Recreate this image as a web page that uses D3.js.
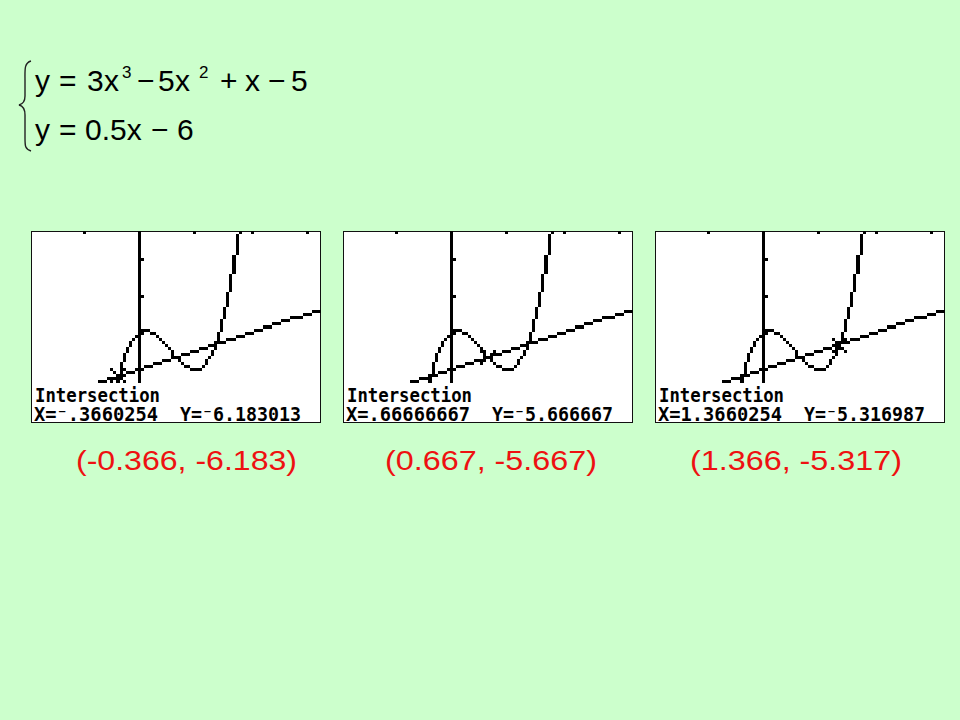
<!DOCTYPE html>
<html>
<head>
<meta charset="utf-8">
<script src="https://cdn.jsdelivr.net/npm/d3@7"></script>
<style>
  html, body { margin: 0; padding: 0; background: #CCFFCC; }
  svg { display: block; }
</style>
</head>
<body>
<div id="chart"></div>
<script>
// ---- data ----
const cubicCoeffs = [3, -5, 1, -5];      // y = 3x^3 - 5x^2 + x - 5
const lineCoeffs = [0.5, -6];            // y = 0.5x - 6
const xWindow = [-1.9, 3.2];
const yWindow = [-7.4, -2.3];
const xTicks = [-1, 1, 2, 3];
const yTicks = [-7, -6, -5, -4, -3];
const intersectX = [-0.3660254, 0.66666667, 1.3660254];
const intersectY = [-6.183013, -5.666667, -5.316987];
const readoutX = ["X=\u207B.3660254", "X=.66666667", "X=1.3660254"];
const readoutY = ["Y=\u207B6.183013", "Y=\u207B5.666667", "Y=\u207B5.316987"];
const pointLabels = ["(-0.366, -6.183)", "(0.667, -5.667)", "(1.366, -5.317)"];

// ---- layout ----
const W = 960, H = 720;
const panelLeft = [31, 343, 655];
const panelTop = 231, panelW = 290, panelH = 192;
const COLS = 95, ROWS = 63, GRAPH_ROWS = 50;

const svg = d3.select("#chart").append("svg").attr("width", W).attr("height", H);
svg.append("rect").attr("width", W).attr("height", H).attr("fill", "#CCFFCC");

// ---- equations ----
const eq = svg.append("g").attr("font-family", "'Liberation Sans', Arial, sans-serif").attr("fill", "#000");
const line1 = [
  {t: "y", x: 35}, {t: "=", x: 59}, {t: "3", x: 87}, {t: "x", x: 104},
  {t: "3", x: 122, sup: true}, {t: "\u2212", x: 137}, {t: "5", x: 158},
  {t: "x", x: 175}, {t: "2", x: 199, sup: true}, {t: "+", x: 220},
  {t: "x", x: 245}, {t: "\u2212", x: 268}, {t: "5", x: 291}
];
const line2 = [
  {t: "y", x: 35}, {t: "=", x: 59}, {t: "0.5x", x: 85},
  {t: "\u2212", x: 151}, {t: "6", x: 177}
];
function drawTokens(tokens, baseline) {
  eq.selectAll(null).data(tokens).enter().append("text")
    .attr("x", d => d.x).attr("y", d => d.sup ? baseline - 13 : baseline)
    .attr("font-size", d => d.sup ? 17 : 30).text(d => d.t);
}
drawTokens(line1, 91);
drawTokens(line2, 140);
// brace
svg.append("path")
  .attr("d", "M31,61 C24,63 25,70 25,80 L25,96 C25,101 23,104 19,105 C23,106 25,109 25,115 L25,138 C25,146 25,149 31,151")
  .attr("fill", "none").attr("stroke", "#222").attr("stroke-width", 1.4);

// ---- calculator panels ----
const poly = (c, x) => c.reduce((a, k) => a * x + k, 0);
const colS = d3.scaleLinear().domain(xWindow).range([0, COLS - 1]);
const rowS = d3.scaleLinear().domain(yWindow).range([ROWS - 1, 0]);
const px = d3.scaleLinear().domain([0, COLS]).range([0, panelW]);
const py = d3.scaleLinear().domain([0, ROWS]).range([0, panelH]);

panelLeft.forEach((left, i) => {
  const g = svg.append("g").attr("transform", `translate(${left},${panelTop})`);
  g.append("rect").attr("x", 0.5).attr("y", 0.5).attr("width", panelW - 1).attr("height", panelH - 1)
    .attr("fill", "#fff").attr("stroke", "#111").attr("stroke-width", 1);

  const cells = new Set();
  const plot = (c, r) => { if (c >= 0 && c < COLS && r >= 0 && r < GRAPH_ROWS) cells.add(c + "," + r); };
  const c0 = Math.round(colS(0));
  for (let r = 0; r < GRAPH_ROWS; r++) plot(c0, r);
  xTicks.forEach(t => plot(Math.round(colS(t)), 0));
  yTicks.forEach(t => plot(c0 + 1, Math.round(rowS(t))));

  [cubicCoeffs, lineCoeffs].forEach(coef => {
    let prev = null;
    for (let c = 0; c < COLS; c++) {
      let r = Math.round(rowS(poly(coef, colS.invert(c))));
      r = Math.max(-3, Math.min(ROWS + 3, r));
      if (prev !== null) {
        const dr = r - prev;
        if (Math.abs(dr) <= 1) { plot(c - 1, prev); plot(c, r); }
        else {
          const step = Math.sign(dr);
          const half = Math.floor(Math.abs(dr) / 2);
          for (let k = 0; k <= half; k++) plot(c - 1, prev + step * k);
          for (let k = half + 1; k <= Math.abs(dr); k++) plot(c, prev + step * k);
        }
      }
      prev = r;
    }
  });

  // intersection cursor
  const ci = Math.round(colS(intersectX[i])), ri = Math.round(rowS(intersectY[i]));
  for (let k = -2; k <= 2; k++) { plot(ci + k, ri + k); plot(ci + k, ri - k); }

  const cellData = Array.from(cells).map(s => s.split(",").map(Number));
  g.selectAll("rect.px").data(cellData).enter().append("rect").attr("class", "px")
    .attr("x", d => px(d[0])).attr("y", d => py(d[1]))
    .attr("width", d => px(d[0] + 1) - px(d[0])).attr("height", d => py(d[1] + 1) - py(d[1]))
    .attr("fill", "#000").attr("shape-rendering", "crispEdges");

  const tf = "'DejaVu Sans Mono', monospace";
  g.append("text").attr("x", 4).attr("y", 171).attr("font-family", tf).attr("font-weight", "bold")
    .attr("font-size", 19).attr("textLength", 125).attr("lengthAdjust", "spacingAndGlyphs").text("Intersection");
  g.append("text").attr("x", 3).attr("y", 190).attr("font-family", tf).attr("font-weight", "bold")
    .attr("font-size", 19).attr("textLength", 124).attr("lengthAdjust", "spacingAndGlyphs").text(readoutX[i]);
  g.append("text").attr("x", 149).attr("y", 190).attr("font-family", tf).attr("font-weight", "bold")
    .attr("font-size", 19).attr("textLength", 121).attr("lengthAdjust", "spacingAndGlyphs").text(readoutY[i]);
});

// ---- red coordinate labels ----
const labelX = d3.scaleOrdinal().domain(pointLabels).range([186.5, 491, 796]);
const labelW = d3.scaleOrdinal().domain(pointLabels).range([221, 212, 212]);
svg.selectAll("text.lbl").data(pointLabels).enter().append("text").attr("class", "lbl")
  .attr("x", d => labelX(d)).attr("y", 470).attr("text-anchor", "middle")
  .attr("font-family", "'Liberation Sans', Arial, sans-serif").attr("font-size", 28)
  .attr("fill", "#EE1111").attr("textLength", d => labelW(d)).attr("lengthAdjust", "spacingAndGlyphs")
  .text(d => d);
</script>
</body>
</html>
